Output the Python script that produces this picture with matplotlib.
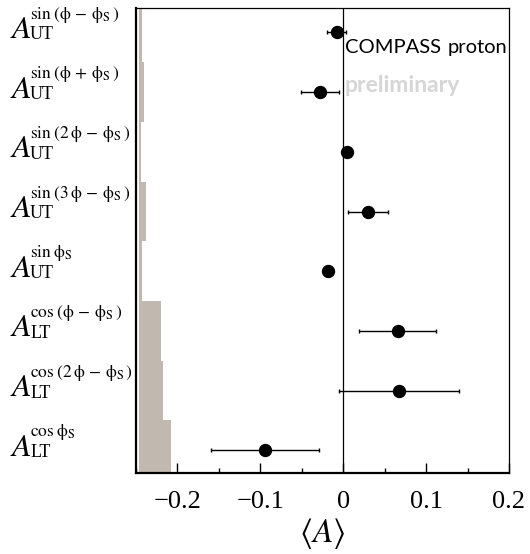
import matplotlib
matplotlib.use("Agg")
import matplotlib.pyplot as plt
from matplotlib.ticker import MultipleLocator

plt.rcParams["mathtext.fontset"] = "stix"
plt.rcParams["font.family"] = ["Liberation Serif", "DejaVu Serif"]

# asymmetry amplitudes, top row first
sup_labels = [
    r"$\mathrm{sin}\;(\mathrm{ϕ}\,-\,\mathrm{ϕ}_{\mathrm{S}}\,)$",
    r"$\mathrm{sin}\;(\mathrm{ϕ}\,+\,\mathrm{ϕ}_{\mathrm{S}}\,)$",
    r"$\mathrm{sin}\;(2\,\mathrm{ϕ}\,-\,\mathrm{ϕ}_{\mathrm{S}}\,)$",
    r"$\mathrm{sin}\;(3\,\mathrm{ϕ}\,-\,\mathrm{ϕ}_{\mathrm{S}}\,)$",
    r"$\mathrm{sin}\;\mathrm{ϕ}_{\mathrm{S}}$",
    r"$\mathrm{cos}\;(\mathrm{ϕ}\,-\,\mathrm{ϕ}_{\mathrm{S}}\,)$",
    r"$\mathrm{cos}\;(2\,\mathrm{ϕ}\,-\,\mathrm{ϕ}_{\mathrm{S}}\,)$",
    r"$\mathrm{cos}\;\mathrm{ϕ}_{\mathrm{S}}$",
]
sub_labels = ["UT", "UT", "UT", "UT", "UT", "LT", "LT", "LT"]
values = [-0.008, -0.028, 0.004, 0.030, -0.018, 0.0655, 0.0675, -0.094]
stat_err = [0.011, 0.023, 0.005, 0.024, 0.004, 0.047, 0.072, 0.065]
sys_err = [0.003, 0.0055, 0.0025, 0.008, 0.003, 0.026, 0.029, 0.038]
rows = [1, 2, 3, 4, 5, 6, 7, 8]

x_ticks = [-0.2, -0.1, 0.0, 0.1, 0.2]
x_ticklabels = ["\u22120.2", "\u22120.1", "0", "0.1", "0.2"]

fig = plt.figure(figsize=(5.30, 5.54), dpi=100)
ax = fig.add_axes([136 / 530, 1 - 473 / 554, 373 / 530, 465 / 554])

sys_left = -0.246
ax.barh(rows, sys_err, left=sys_left, height=1.0, color="#c1b9b0", linewidth=0)
ax.axvline(0, color="black", linewidth=0.9)
ax.errorbar(values, rows, xerr=stat_err, fmt="o", color="black", markersize=8.6,
            elinewidth=1.0, capsize=1.5, capthick=1.0)

ax.set_xlim(-0.25, 0.2)
ax.set_ylim(8.38, 0.59)
ax.set_yticks([])
ax.set_xticks(x_ticks)
ax.set_xticklabels(x_ticklabels, fontsize=19)
ax.xaxis.set_minor_locator(MultipleLocator(0.05))
ax.tick_params(axis="x", which="major", direction="in", length=7.2, width=1.0, pad=13)
ax.tick_params(axis="x", which="minor", direction="in", length=3.6, width=1.0)
ax.set_xlabel(r"$\langle A\rangle$", fontsize=24, labelpad=2)

for side in ["left", "bottom"]:
    ax.spines[side].set_linewidth(1.6)
for side in ["top", "right"]:
    ax.spines[side].set_linewidth(0.9)

# row labels built from a big A with separate super/subscripts
xa = (10 - 136) / 373
ytr = ax.get_yaxis_transform()
for r, sup, sub in zip(rows, sup_labels, sub_labels):
    ax.annotate(r"$A$", xy=(xa, r), xycoords=ytr, xytext=(0, -4), textcoords="offset points",
                fontsize=23, va="baseline", ha="left", annotation_clip=False)
    ax.annotate(sup, xy=(xa, r), xycoords=ytr, xytext=(14.5, 10), textcoords="offset points",
                fontsize=12.5, va="baseline", ha="left", annotation_clip=False)
    ax.annotate(sub, xy=(xa, r), xycoords=ytr, xytext=(14.5, -5), textcoords="offset points",
                fontsize=13, va="baseline", ha="left", annotation_clip=False)

ax.text(0.560, 0.9026, "COMPASS", transform=ax.transAxes, fontsize=14.5,
        family="Lato", va="baseline", ha="left")
ax.text(0.8365, 0.9026, "proton", transform=ax.transAxes, fontsize=14.5,
        family="Lato", va="baseline", ha="left")
ax.text(0.560, 0.820, "preliminary", transform=ax.transAxes, fontsize=16.5,
        family="Lato", weight="bold", color="#d6d6d6", va="baseline", ha="left")

fig.savefig("out.png", dpi=100)
